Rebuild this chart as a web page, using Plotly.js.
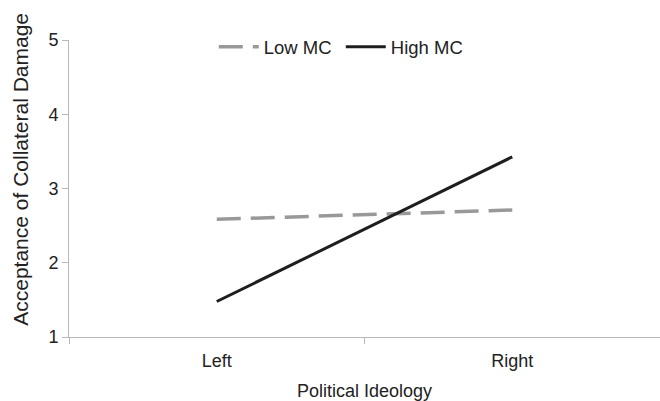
<!DOCTYPE html>
<html><head><meta charset="utf-8">
<script src="https://cdn.plot.ly/plotly-3.0.1.min.js"></script>
<style>body{margin:0;background:#fff}#c{width:660px;height:401px}</style>
</head><body><div id="c"></div>
<script>
var categories = ["Left", "Right"];
var lowMC = [2.585, 2.71];
var highMC = [1.478, 3.426];
var seriesNames = ["Low MC", "High MC"];
var yTicks = [1, 2, 3, 4, 5];
var xTitle = "Political Ideology";
var yTitle = "Acceptance of Collateral Damage";

var traces = [
  {x: categories, y: lowMC, name: seriesNames[0], type: "scatter", mode: "lines",
   line: {color: "#999999", width: 3.5, dash: "24px,10px"}},
  {x: categories, y: highMC, name: seriesNames[1], type: "scatter", mode: "lines",
   line: {color: "#1e1e1e", width: 3}}
];
var fam = "Liberation Sans, Arial, sans-serif";
var layout = {
  width: 660, height: 401,
  margin: {l: 69, r: 0, t: 40, b: 64},
  paper_bgcolor: "#fff", plot_bgcolor: "#fff",
  font: {family: fam, color: "#222"},
  showlegend: true,
  legend: {orientation: "h", x: 0.245, xanchor: "left", y: 0.976, yanchor: "middle",
           font: {size: 18.5, family: fam, color: "#222"}, itemwidth: 40,
           entrywidth: 72, entrywidthmode: "pixels", traceorder: "normal"},
  xaxis: {type: "category", range: [-0.5, 1.5], tickson: "boundaries",
          showgrid: false, zeroline: false, showline: true, linecolor: "#b8b8b8", linewidth: 1,
          ticks: "outside", ticklen: 6, tickcolor: "#b8b8b8", ticklabelstandoff: 7,
          tickfont: {size: 18, family: fam, color: "#222"},
          title: {text: xTitle, font: {size: 18, family: fam, color: "#222"}, standoff: 14}},
  yaxis: {range: [1, 5], tickvals: yTicks, showgrid: false, zeroline: false,
          showline: true, linecolor: "#b8b8b8", linewidth: 1,
          ticks: "outside", ticklen: 6, tickcolor: "#b8b8b8",
          tickfont: {size: 18, family: fam, color: "#222"}},
  annotations: [{text: yTitle, textangle: -90, showarrow: false,
                 xref: "paper", yref: "paper", x: (21 - 69) / 591, y: 0.563,
                 xanchor: "center", yanchor: "middle",
                 font: {size: 21, family: fam, color: "#222"}}]
};
Plotly.newPlot("c", traces, layout, {displayModeBar: false, staticPlot: true});
</script></body></html>
